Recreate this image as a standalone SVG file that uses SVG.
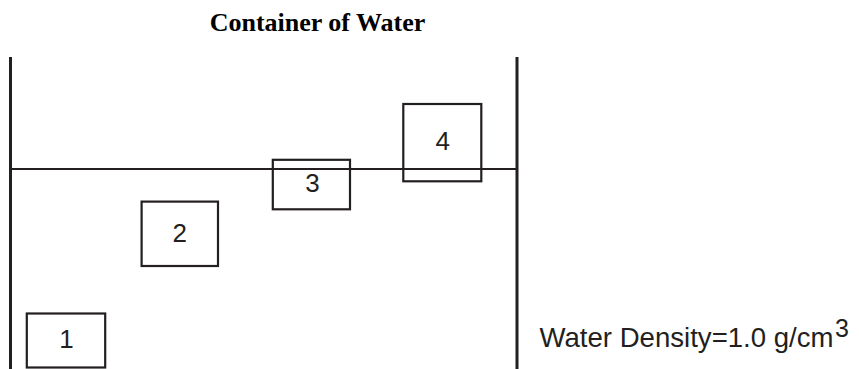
<svg xmlns="http://www.w3.org/2000/svg" width="859" height="369" viewBox="0 0 859 369">
<style>
.wall{stroke:#231f20;stroke-width:3;fill:none}
.water{stroke:#231f20;stroke-width:2;fill:none}
.box{stroke:#231f20;stroke-width:2.2;fill:none}
.num{font-family:"Liberation Sans",Arial,sans-serif;font-size:26px;fill:#231f20;text-anchor:middle}
.title{font-family:"Liberation Serif","Times New Roman",serif;font-weight:bold;font-size:26px;fill:#000;text-anchor:middle}
.label{font-family:"Liberation Sans",Arial,sans-serif;font-size:27.5px;fill:#231f20}
</style>
<rect width="859" height="369" fill="#fff"/>
<text class="title" x="317.5" y="30.7">Container of Water</text>
<g id="container">
<line class="wall" x1="10.5" y1="57" x2="10.5" y2="369"/>
<line class="wall" x1="517" y1="57" x2="517" y2="369"/>
<line class="water" x1="10.5" y1="169" x2="517" y2="169"/>
</g>
<g id="box1"><rect class="box" x="26.8" y="313.5" width="78.4" height="54"/><text class="num" x="66.5" y="348.3">1</text></g>
<g id="box2"><rect class="box" x="141.6" y="201.6" width="76.4" height="64.4"/><text class="num" x="179.7" y="241.5">2</text></g>
<g id="box3"><rect class="box" x="272.8" y="159.8" width="77.2" height="49.5"/><text class="num" x="312.5" y="191.7">3</text></g>
<g id="box4"><rect class="box" x="403.3" y="104" width="78" height="77.3"/><text class="num" x="442.7" y="150">4</text></g>
<g id="legend"><text class="label" x="539.5" y="346.7" textLength="294" lengthAdjust="spacingAndGlyphs">Water Density=1.0 g/cm</text><text class="label" x="835" y="336.5" style="font-size:25px">3</text></g>
</svg>
